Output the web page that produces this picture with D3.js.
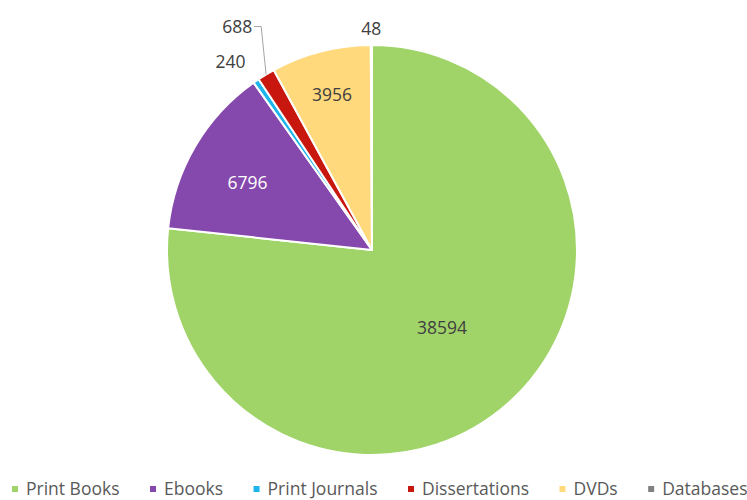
<!DOCTYPE html>
<html>
<head>
<meta charset="utf-8">
<script src="https://cdn.jsdelivr.net/npm/d3@7"></script>
<style>
  body { margin: 0; background: #fff; }
  text { font-family: "Open Sans", sans-serif; }
</style>
</head>
<body>
<script>
// chart data
var categories = ["Print Books", "Ebooks", "Print Journals", "Dissertations", "DVDs", "Databases"];
var values = [38594, 6796, 240, 688, 3956, 48];
var colors = ["#a0d468", "#8548ad", "#1eb4ec", "#c8170e", "#ffd97c", "#808080"];
var labelColors = ["#404040", "#ffffff", "#404040", "#404040", "#404040", "#404040"];

var w = 747, h = 500;
var cx = 372, cy = 250, R = 205;

var svg = d3.select("body").append("svg")
    .attr("width", w)
    .attr("height", h);

var data = categories.map(function(c, i){
    return {name: c, value: values[i], color: colors[i], lc: labelColors[i]};
});

var pie = d3.pie().sort(null).value(function(d){ return d.value; });
var arcs = pie(data);
var arc = d3.arc().innerRadius(0).outerRadius(R);

var g = svg.append("g").attr("transform", "translate(" + cx + "," + cy + ")");

g.selectAll("path.slice")
    .data(arcs)
    .enter().append("path")
    .attr("class", "slice")
    .attr("d", arc)
    .attr("fill", function(d){ return d.data.color; })
    .attr("stroke", "#fff")
    .attr("stroke-width", 2)
    .attr("stroke-linejoin", "round");

// label placement: inside for big slices, outside for the small ones
function pt(a, r){ return [Math.sin(a) * r, -Math.cos(a) * r]; }

arcs.forEach(function(d, i){
    var span = d.endAngle - d.startAngle;
    var mid = (d.startAngle + d.endAngle) / 2;
    var p, leader = false;
    if (span > Math.PI) {
        p = pt(mid, R * 0.51);
    } else if (span > 0.7) {
        p = pt(mid - 0.035, R * 0.69);
    } else if (span > 0.3) {
        p = pt(mid, R * 0.78);
    } else if (d.data.name == "Dissertations") {
        p = pt(mid, R + 56);
        leader = true;
    } else if (d.data.name == "Print Journals") {
        p = pt(mid - 0.045, R + 30);
    } else {
        p = pt(mid, R + 16);
    }
    var t = g.append("text")
        .attr("x", p[0])
        .attr("y", p[1])
        .attr("dy", "0.35em")
        .attr("text-anchor", "middle")
        .attr("font-size", 17.5)
        .attr("fill", d.data.lc)
        .text(d.data.value);
    if (leader) {
        var tw = t.node().getComputedTextLength();
        var e = pt(mid, R);
        var x0 = p[0] + tw / 2 + 2;
        g.append("polyline")
            .attr("points", [[x0, p[1]], [x0 + 7, p[1]], e].map(function(q){ return q.join(","); }).join(" "))
            .attr("fill", "none")
            .attr("stroke", "#a6a6a6")
            .attr("stroke-width", 1);
    }
});

// legend
var legend = svg.append("g").attr("class", "legend");
var lx = 12, ly = 495;
data.forEach(function(d){
    legend.append("rect")
        .attr("x", lx)
        .attr("y", ly - 9)
        .attr("width", 6)
        .attr("height", 6)
        .attr("fill", d.color);
    var t = legend.append("text")
        .attr("x", lx + 14)
        .attr("y", ly)
        .attr("font-size", 17.5)
        .attr("fill", "#595959")
        .text(d.name);
    lx += 14 + t.node().getComputedTextLength() + 30.5;
});
</script>
</body>
</html>
